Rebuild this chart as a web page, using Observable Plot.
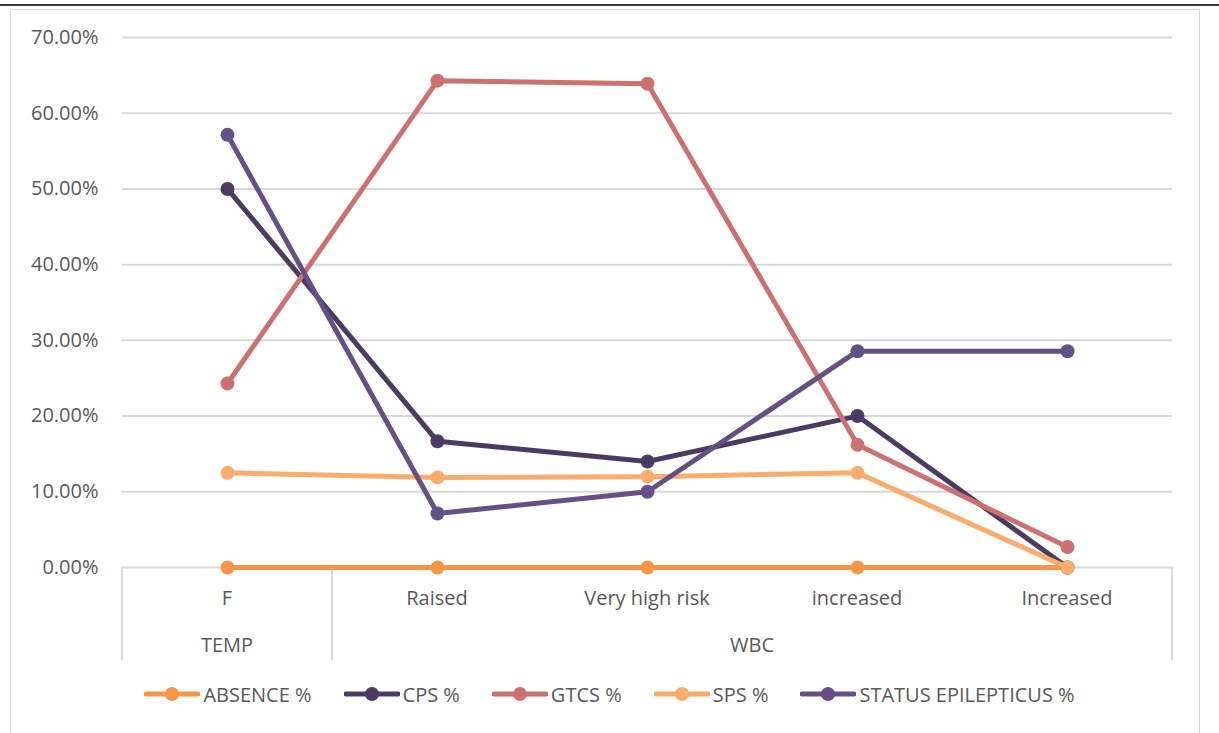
<!DOCTYPE html>
<html>
<head>
<meta charset="utf-8">
<script src="https://cdn.jsdelivr.net/npm/d3@7"></script>
<script src="https://cdn.jsdelivr.net/npm/@observablehq/plot@0.6"></script>
<style>
  body { margin: 0; background: #fff; font-family: "Open Sans", sans-serif; }
  #frame { position: relative; width: 1219px; height: 733px; overflow: hidden; background: #fff; }
  #topline { position: absolute; left: 0; top: 4px; width: 1219px; height: 2px; background: #3a3a3a; }
  #box { position: absolute; left: 10px; top: 9px; width: 1190px; height: 760px; border: 1px solid #d9d9d9; box-sizing: border-box; }
  #chart { position: absolute; left: 0; top: 0; }
  #legend { position: absolute; left: 0; top: 680px; width: 1219px; height: 28px; display: flex; justify-content: center; align-items: center; gap: 32px; font-size: 20px; color: #595959; }
  .item { display: flex; align-items: center; gap: 3px; }
  .item svg { display: block; }
</style>
</head>
<body>
<div id="frame">
  <div id="topline"></div>
  <div id="box"></div>
  <div id="chart"></div>
  <div id="legend"></div>
</div>
<script>
// Categories along the x axis and their parent groups
const categories = ["F", "Raised", "Very high risk", "increased", "Increased"];
const groups = ["TEMP", "WBC", "WBC", "WBC", "WBC"];

// Series names, colours and values (fractions, shown as percentages)
const seriesNames = ["ABSENCE %", "CPS %", "GTCS %", "SPS %", "STATUS EPILEPTICUS %"];
const seriesColors = ["#f79646", "#4b3a62", "#cc716f", "#f9ac6b", "#664e86"];
const absence = [0, 0, 0, 0, 0];
const cps = [0.50, 0.1667, 0.14, 0.20, 0];
const gtcs = [0.243, 0.643, 0.639, 0.162, 0.027];
const sps = [0.125, 0.119, 0.12, 0.125, 0];
const statusEp = [0.5714, 0.0714, 0.10, 0.2857, 0.2857];
const yTicks = [0, 0.1, 0.2, 0.3, 0.4, 0.5, 0.6, 0.7];

const seriesValues = [absence, cps, gtcs, sps, statusEp];
const rows = seriesNames.flatMap((s, i) =>
  categories.map((c, j) => ({ series: s, cat: c, value: seriesValues[i][j] }))
);

const W = 1219, H = 670;
const mL = 122, mR = 47, mT = 37, mB = 103;
const textColor = "#595959";
const gridColor = "#d9d9d9";

// Two-level category axis: labels, group labels and group separators
function categoryAxis(index, scales, values, dimensions) {
  const x = scales.x;
  const step = (dimensions.width - dimensions.marginLeft - dimensions.marginRight) / categories.length;
  const y0 = dimensions.height - dimensions.marginBottom;
  const g = d3.create("svg:g");
  // separators at group boundaries
  const bounds = [];
  categories.forEach((c, i) => { if (i === 0 || groups[i] !== groups[i - 1]) bounds.push(x(c) - step / 2); });
  bounds.push(x(categories[categories.length - 1]) + step / 2);
  g.selectAll("line.sep").data(bounds).join("line")
    .attr("x1", d => d).attr("x2", d => d)
    .attr("y1", y0).attr("y2", y0 + 93)
    .attr("stroke", gridColor).attr("stroke-width", 2);
  // category labels
  g.selectAll("text.cat").data(categories).join("text")
    .attr("x", d => x(d)).attr("y", y0 + 31)
    .attr("text-anchor", "middle").attr("dy", "0.35em")
    .attr("fill", textColor).attr("font-size", 20)
    .text(d => d);
  // group labels centred under their categories
  const groupNames = Array.from(new Set(groups));
  const groupPos = groupNames.map(gn => {
    const cs = categories.filter((c, i) => groups[i] === gn);
    return { name: gn, x: (x(cs[0]) + x(cs[cs.length - 1])) / 2 };
  });
  g.selectAll("text.grp").data(groupPos).join("text")
    .attr("x", d => d.x).attr("y", y0 + 78)
    .attr("text-anchor", "middle").attr("dy", "0.35em")
    .attr("fill", textColor).attr("font-size", 20)
    .text(d => d.name);
  return g.node();
}

const chart = Plot.plot({
  width: W,
  height: H,
  marginLeft: mL,
  marginRight: mR,
  marginTop: mT,
  marginBottom: mB,
  style: { fontFamily: "Open Sans, sans-serif", background: "transparent", color: textColor },
  x: { type: "point", domain: categories, padding: 0.5, axis: null },
  y: { domain: [0, 0.7], axis: null },
  color: { domain: seriesNames, range: seriesColors },
  marks: [
    Plot.gridY(yTicks, { stroke: gridColor, strokeOpacity: 1, strokeWidth: 2 }),
    Plot.axisY(yTicks, { tickFormat: d3.format(".2%"), tickSize: 0, tickPadding: 24, fontSize: 20, fill: textColor, label: null }),
    categoryAxis,
    ...seriesNames.flatMap(s => [
      Plot.line(rows.filter(d => d.series === s), { x: "cat", y: "value", stroke: "series", strokeWidth: 5, strokeLinejoin: "round" }),
      Plot.dot(rows.filter(d => d.series === s), { x: "cat", y: "value", fill: "series", r: 7 })
    ])
  ]
});
document.getElementById("chart").appendChild(chart);

// Legend
const legend = d3.select("#legend");
seriesNames.forEach((s, i) => {
  const item = legend.append("div").attr("class", "item");
  const sw = item.append("svg").attr("width", 56).attr("height", 16);
  sw.append("line").attr("x1", 2).attr("x2", 54).attr("y1", 8).attr("y2", 8)
    .attr("stroke", seriesColors[i]).attr("stroke-width", 5).attr("stroke-linecap", "round");
  sw.append("circle").attr("cx", 28).attr("cy", 8).attr("r", 7).attr("fill", seriesColors[i]);
  item.append("span").text(s);
});
</script>
</body>
</html>
